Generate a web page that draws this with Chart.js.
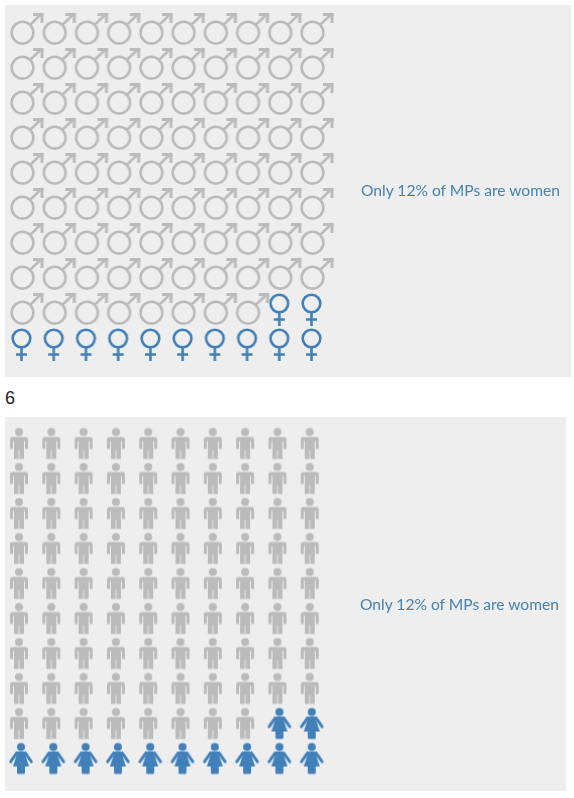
<!DOCTYPE html>
<html>
<head>
<meta charset="utf-8">
<script src="https://cdn.jsdelivr.net/npm/chart.js@4"></script>
<style>
  body { margin: 0; background: #fff; width: 574px; height: 798px; position: relative; overflow: hidden; }
  .box { position: absolute; background: #eee; }
  .box canvas { display: block; }
  .note { position: absolute; font: 15.6px Lato, sans-serif; color: #4682b4; white-space: nowrap; line-height: 20px; }
  #six { position: absolute; left: 5px; top: 388px; font: 18px "Liberation Sans", Arial, sans-serif; color: #222; line-height: 21px; }
</style>
</head>
<body>
<div class="box" style="left:5px;top:5px;width:566px;height:372px"><canvas id="symbols"></canvas></div>
<div class="note" style="left:361px;top:180px">Only 12% of MPs are women</div>
<div id="six">6</div>
<div class="box" style="left:5px;top:417px;width:561px;height:374px"><canvas id="people"></canvas></div>
<div class="note" style="left:360px;top:594px">Only 12% of MPs are women</div>

<script>
// icons per row, top row first
const menPerRow = [10, 10, 10, 10, 10, 10, 10, 10, 8, 0];
const womenPerRow = [0, 0, 0, 0, 0, 0, 0, 0, 2, 10];

const GREY = "#bbbbbb";
const BLUE = "#4180b9";

function unitPoints(men, women) {
  const menPts = [];
  const womenPts = [];
  men.forEach((count, row) => {
    for (let col = 0; col < count; col++) menPts.push({ x: col, y: row });
    for (let col = count; col < count + women[row]; col++) womenPts.push({ x: col, y: row });
  });
  return { menPts, womenPts };
}

function icon(draw) {
  const c = document.createElement("canvas");
  c.width = 56;
  c.height = 56;
  const g = c.getContext("2d");
  g.translate(28, 28);
  draw(g);
  return c;
}

const maleSymbol = icon((g) => {
  g.strokeStyle = GREY;
  g.fillStyle = GREY;
  g.lineWidth = 2.6;
  g.beginPath();
  g.arc(1.5, 3.7, 10.9, 0, Math.PI * 2);
  g.stroke();
  g.beginPath();
  g.moveTo(9.5, -4.5);
  g.lineTo(21, -15.5);
  g.stroke();
  g.fillRect(12, -16, 10.5, 3);
  g.fillRect(19.5, -16, 3, 10);
});

const femaleSymbol = icon((g) => {
  g.strokeStyle = BLUE;
  g.lineWidth = 2.6;
  g.beginPath();
  g.arc(0.5, -5.5, 8.8, 0, Math.PI * 2);
  g.stroke();
  g.beginPath();
  g.moveTo(0.5, 3);
  g.lineTo(0.5, 17);
  g.moveTo(-5, 10.5);
  g.lineTo(6, 10.5);
  g.stroke();
});

const manFigure = icon((g) => {
  g.fillStyle = GREY;
  g.beginPath();
  g.arc(0, -11.5, 4, 0, Math.PI * 2);
  g.fill();
  // shoulders and arms
  g.beginPath();
  g.roundRect(-9, -6.5, 18, 4, [2.5, 2.5, 0, 0]);
  g.fill();
  g.fillRect(-9, -3, 3, 8.5);
  g.fillRect(6, -3, 3, 8.5);
  // trunk and legs
  g.fillRect(-5, -3, 10, 9.5);
  g.fillRect(-5, 6, 4.6, 9.5);
  g.fillRect(0.4, 6, 4.6, 9.5);
});

const womanFigure = icon((g) => {
  g.translate(2, 0);
  g.fillStyle = BLUE;
  g.strokeStyle = BLUE;
  g.beginPath();
  g.arc(0, -11.5, 4, 0, Math.PI * 2);
  g.fill();
  g.lineCap = "round";
  g.lineWidth = 2.9;
  g.beginPath();
  g.moveTo(-4.2, -5.6);
  g.lineTo(-10.3, 3.2);
  g.moveTo(4.2, -5.6);
  g.lineTo(10.3, 3.2);
  g.stroke();
  g.beginPath();
  g.moveTo(-3.2, -7);
  g.lineTo(3.2, -7);
  g.lineTo(8, 8);
  g.lineTo(-8, 8);
  g.closePath();
  g.fill();
  g.beginPath();
  g.roundRect(-4, 6, 8, 9.5, 1.5);
  g.fill();
});

function drawUnits(id, width, height, padding, menIcon, womenIcon) {
  const canvas = document.getElementById(id);
  canvas.width = width;
  canvas.height = height;
  const { menPts, womenPts } = unitPoints(menPerRow, womenPerRow);
  new Chart(canvas, {
    type: "scatter",
    data: {
      datasets: [
        { label: "Men", data: menPts, pointStyle: menIcon, clip: false },
        { label: "Women", data: womenPts, pointStyle: womenIcon, clip: false },
      ],
    },
    options: {
      responsive: false,
      animation: false,
      layout: { padding },
      plugins: { legend: { display: false }, tooltip: { enabled: false } },
      scales: {
        x: { display: false, min: 0, max: 9 },
        y: { display: false, min: 0, max: 9, reverse: true },
      },
    },
  });
}

drawUnits("symbols", 566, 372, { left: 16, right: 260, top: 24, bottom: 33 }, maleSymbol, femaleSymbol);
drawUnits("people", 561, 374, { left: 14, right: 256.3, top: 26.5, bottom: 32.5 }, manFigure, womanFigure);
</script>
</body>
</html>
